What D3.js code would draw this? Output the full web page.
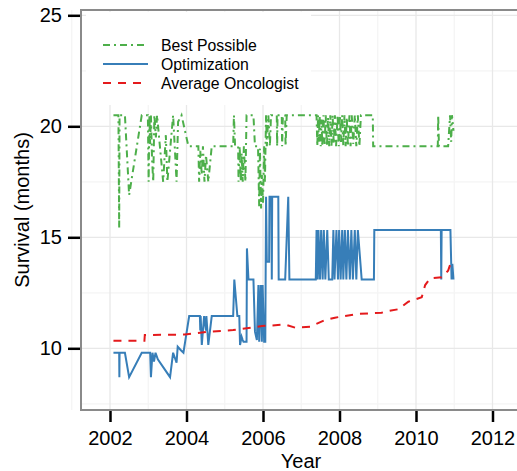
<!DOCTYPE html>
<html>
<head>
<meta charset="utf-8">
<script src="https://cdn.jsdelivr.net/npm/d3@7"></script>
<style>
  body { margin: 0; background: #fff; }
  text { font-family: "Liberation Sans", Arial, sans-serif; }
</style>
</head>
<body>
<div id="chart"></div>
<script>
const W = 517, H = 471;

// tick labels
const xTicks = [2002, 2004, 2006, 2008, 2010, 2012];
const yTicks = [10, 15, 20, 25];

// series: [year, survival in months]
const bestPossible = [
  [2002.09, 20.5], [2002.22, 20.5], [2002.24, 15.4], [2002.25, 20.5], [2002.39, 20.5],
  [2002.50, 16.9], [2002.83, 20.5], [2002.99, 20.5], [2003.01, 17.5], [2003.03, 20.5],
  [2003.05, 19.2], [2003.07, 20.5], [2003.10, 18.5], [2003.13, 17.5], [2003.16, 20.5],
  [2003.20, 19.5], [2003.23, 20.5], [2003.39, 17.5], [2003.46, 19.6], [2003.50, 17.5],
  [2003.65, 20.5], [2003.68, 19.5], [2003.74, 17.5], [2003.78, 20.2], [2003.87, 20.5],
  [2004.05, 19.1], [2004.31, 19.1], [2004.33, 17.5], [2004.36, 18.9], [2004.40, 17.8],
  [2004.43, 19.1], [2004.47, 17.5], [2004.51, 18.7], [2004.57, 17.5], [2004.66, 19.1],
  [2005.22, 19.1], [2005.24, 20.5], [2005.27, 19.1], [2005.35, 19.1], [2005.36, 17.5],
  [2005.39, 19.1], [2005.42, 17.5], [2005.44, 18.8], [2005.47, 17.5], [2005.50, 19.1],
  [2005.54, 17.5], [2005.57, 20.5], [2005.75, 20.5], [2005.79, 19.1], [2005.87, 19.1],
  [2005.90, 16.4], [2005.92, 19.0], [2005.95, 16.3], [2005.97, 17.8], [2006.00, 16.5],
  [2006.03, 19.1], [2006.05, 17.5], [2006.08, 20.5], [2006.10, 19.1], [2006.14, 20.5],
  [2006.18, 19.1], [2006.21, 20.5], [2006.36, 20.5], [2006.37, 19.1], [2006.38, 20.5],
  [2006.49, 20.5], [2006.50, 19.1], [2006.52, 20.5], [2006.58, 20.5], [2006.59, 19.1],
  [2006.62, 20.5], [2007.40, 20.5], [2007.42, 19.1], [2007.44, 20.5], [2007.46, 19.3],
  [2007.48, 20.5], [2007.51, 19.1], [2007.53, 20.3], [2007.55, 19.1], [2007.58, 20.5],
  [2007.61, 19.2], [2007.64, 20.5], [2007.67, 19.1], [2007.70, 20.4], [2007.73, 19.1],
  [2007.76, 20.5], [2007.79, 19.1], [2007.82, 20.5], [2007.85, 19.2], [2007.88, 20.5],
  [2007.91, 19.1], [2007.95, 20.5], [2007.98, 19.1], [2008.01, 20.5], [2008.04, 19.3],
  [2008.07, 20.5], [2008.10, 19.1], [2008.13, 20.5], [2008.16, 19.1], [2008.19, 20.4],
  [2008.22, 19.1], [2008.26, 20.5], [2008.29, 19.1], [2008.32, 20.5], [2008.36, 19.2],
  [2008.40, 20.5], [2008.44, 19.1], [2008.48, 20.5], [2008.52, 19.1], [2008.56, 20.5],
  [2008.87, 20.5], [2008.88, 19.1], [2010.57, 19.1], [2010.58, 20.5], [2010.60, 19.1],
  [2010.84, 19.1], [2010.89, 20.5], [2010.92, 19.3], [2010.94, 20.5], [2010.98, 19.8]
];

const optimization = [
  [2002.09, 9.8], [2002.24, 9.8], [2002.245, 8.7], [2002.25, 9.8], [2002.39, 9.8],
  [2002.50, 8.7], [2002.83, 9.8], [2003.05, 9.8], [2003.07, 8.7], [2003.11, 9.8],
  [2003.15, 9.4], [2003.19, 9.8], [2003.25, 9.5], [2003.57, 8.7], [2003.65, 9.8],
  [2003.74, 9.35], [2003.77, 10.07], [2003.86, 9.9], [2003.92, 9.8], [2004.07, 11.45],
  [2004.35, 11.45], [2004.36, 10.8], [2004.37, 11.45], [2004.40, 10.15], [2004.46, 11.45],
  [2004.51, 10.8], [2004.52, 11.45], [2004.57, 10.15], [2004.66, 11.45], [2005.22, 11.45],
  [2005.25, 13.1], [2005.33, 11.45], [2005.38, 11.45], [2005.40, 10.15], [2005.44, 10.52],
  [2005.47, 10.37], [2005.49, 10.3], [2005.57, 10.3], [2005.58, 14.5], [2005.62, 13.1],
  [2005.75, 13.1], [2005.79, 10.75], [2005.84, 10.37], [2005.88, 12.85], [2005.90, 10.3],
  [2005.94, 12.85], [2005.97, 10.3], [2005.99, 12.85], [2006.03, 10.3], [2006.06, 10.3],
  [2006.08, 16.83], [2006.10, 13.9], [2006.16, 13.9], [2006.17, 16.83], [2006.22, 16.83],
  [2006.23, 13.1], [2006.24, 16.83], [2006.40, 16.83], [2006.41, 13.1], [2006.58, 13.1],
  [2006.66, 16.83], [2006.69, 13.1], [2007.38, 13.1], [2007.40, 15.33], [2007.43, 13.1],
  [2007.45, 15.33], [2007.49, 13.1], [2007.52, 15.33], [2007.56, 13.1], [2007.59, 15.33],
  [2007.63, 13.1], [2007.68, 15.33], [2007.72, 13.1], [2007.81, 13.1], [2007.84, 15.33],
  [2007.87, 13.1], [2007.92, 15.33], [2007.96, 13.1], [2007.99, 15.33], [2008.03, 13.1],
  [2008.07, 15.33], [2008.10, 13.1], [2008.14, 15.33], [2008.18, 13.1], [2008.22, 15.33],
  [2008.27, 13.1], [2008.31, 15.33], [2008.35, 13.1], [2008.40, 15.33], [2008.44, 13.1],
  [2008.48, 15.33], [2008.58, 13.1], [2008.90, 13.1], [2008.91, 15.33], [2010.65, 15.33],
  [2010.66, 13.1], [2010.67, 15.33], [2010.90, 15.33], [2010.93, 13.1], [2010.95, 13.8],
  [2010.98, 13.1]
];

const averageOncologist = [
  [2002.09, 10.34], [2002.90, 10.34], [2002.91, 10.6], [2003.96, 10.62], [2004.53, 10.74],
  [2005.22, 10.82], [2005.97, 11.0], [2006.58, 11.07], [2006.84, 10.93], [2007.23, 10.97],
  [2007.62, 11.27], [2007.88, 11.38], [2008.49, 11.55], [2009.10, 11.6], [2009.19, 11.65],
  [2009.54, 11.76], [2009.80, 12.1], [2010.15, 12.3], [2010.24, 12.85], [2010.37, 13.15],
  [2010.67, 13.2], [2010.84, 13.5], [2010.89, 13.75]
];

const seriesNames = ["Best Possible", "Optimization", "Average Oncologist"];
const seriesColors = ["#4daf4a", "#377eb8", "#e41a1c"];
const seriesDash = ["7,4,2,4", null, "8,7"];

const PANEL = { LEFT: 81, TOP: 10, RIGHT: 521, BOTTOM: 410 };

const svg = d3.select("#chart").append("svg")
  .attr("width", W)
  .attr("height", H);

const x = d3.scaleLinear().domain([2002, 2012]).range([110, 492.5]);
const y = d3.scaleLinear().domain([10, 25]).range([348.3, 15.3]);

// panel background
svg.append("rect")
  .attr("x", PANEL.LEFT).attr("y", PANEL.TOP)
  .attr("width", PANEL.RIGHT - PANEL.LEFT)
  .attr("height", PANEL.BOTTOM - PANEL.TOP)
  .attr("fill", "#fff");

// grid lines (minor then major)
const grid = svg.append("g");
const xMinor = d3.range(2001, 2014, 1).filter((d) => d % 2 === 1);
const yMinor = [7.5, 12.5, 17.5, 22.5];
grid.selectAll(".vminor").data(xMinor).enter().append("line")
  .attr("x1", (d) => x(d)).attr("x2", (d) => x(d))
  .attr("y1", PANEL.TOP).attr("y2", PANEL.BOTTOM)
  .attr("stroke", "#f4f4f4").attr("stroke-width", 1.2);
grid.selectAll(".hminor").data(yMinor).enter().append("line")
  .attr("x1", PANEL.LEFT).attr("x2", PANEL.RIGHT)
  .attr("y1", (d) => y(d)).attr("y2", (d) => y(d))
  .attr("stroke", "#f4f4f4").attr("stroke-width", 1.2);
grid.selectAll(".vmajor").data(xTicks).enter().append("line")
  .attr("x1", (d) => x(d)).attr("x2", (d) => x(d))
  .attr("y1", PANEL.TOP).attr("y2", PANEL.BOTTOM)
  .attr("stroke", "#e8e8e8").attr("stroke-width", 1.3);
grid.selectAll(".hmajor").data(yTicks).enter().append("line")
  .attr("x1", PANEL.LEFT).attr("x2", PANEL.RIGHT)
  .attr("y1", (d) => y(d)).attr("y2", (d) => y(d))
  .attr("stroke", "#e8e8e8").attr("stroke-width", 1.3);

// legend box covers grid
svg.append("rect")
  .attr("x", 86).attr("y", 12)
  .attr("width", 225).attr("height", 93)
  .attr("fill", "#fff");

// lines
const line = d3.line()
  .x((d) => x(d[0]))
  .y((d) => y(d[1]));

const allSeries = [bestPossible, optimization, averageOncologist];
allSeries.forEach((data, i) => {
  svg.append("path")
    .attr("class", "line")
    .attr("fill", "none")
    .attr("stroke", seriesColors[i])
    .attr("stroke-width", 2)
    .attr("stroke-dasharray", seriesDash[i])
    .attr("d", line(data));
});

// panel border
svg.append("rect")
  .attr("x", PANEL.LEFT).attr("y", PANEL.TOP)
  .attr("width", PANEL.RIGHT - PANEL.LEFT)
  .attr("height", PANEL.BOTTOM - PANEL.TOP)
  .attr("fill", "none")
  .attr("stroke", "#8a8a8a")
  .attr("stroke-width", 2);

// axes
const xAxis = svg.append("g")
  .attr("transform", `translate(0, ${PANEL.BOTTOM + 1})`)
  .call(d3.axisBottom(x).tickValues(xTicks).tickFormat(d3.format("d")).tickSize(11).tickPadding(9));
const yAxis = svg.append("g")
  .attr("transform", `translate(${PANEL.LEFT - 1}, 0)`)
  .call(d3.axisLeft(y).tickValues(yTicks).tickSize(12).tickPadding(6));

[xAxis, yAxis].forEach((g) => {
  g.select(".domain").remove();
  g.selectAll(".tick line").attr("stroke", "#000").attr("stroke-width", 2.5);
  g.selectAll(".tick text")
    .attr("fill", "#000")
    .style("font-size", "20px")
    .style("font-family", "'Liberation Sans', Arial, sans-serif");
});

// axis titles
svg.append("text")
  .attr("x", (PANEL.LEFT + PANEL.RIGHT) / 2)
  .attr("y", 468)
  .attr("text-anchor", "middle")
  .attr("font-size", "20px")
  .attr("fill", "#000")
  .text("Year");

svg.append("text")
  .attr("transform", `translate(29, ${(PANEL.TOP + PANEL.BOTTOM) / 2}) rotate(-90)`)
  .attr("text-anchor", "middle")
  .attr("font-size", "20px")
  .attr("fill", "#000")
  .text("Survival (months)");

// legend
const legend = svg.append("g");
seriesNames.forEach((name, i) => {
  const ly = 45 + i * 19;
  legend.append("line")
    .attr("x1", 103).attr("x2", 148)
    .attr("y1", ly).attr("y2", ly)
    .attr("stroke", seriesColors[i])
    .attr("stroke-width", 2)
    .attr("stroke-dasharray", seriesDash[i]);
  legend.append("text")
    .attr("x", 161).attr("y", ly + 6)
    .attr("font-size", "15.8px")
    .attr("fill", "#000")
    .text(name);
});
</script>
</body>
</html>
